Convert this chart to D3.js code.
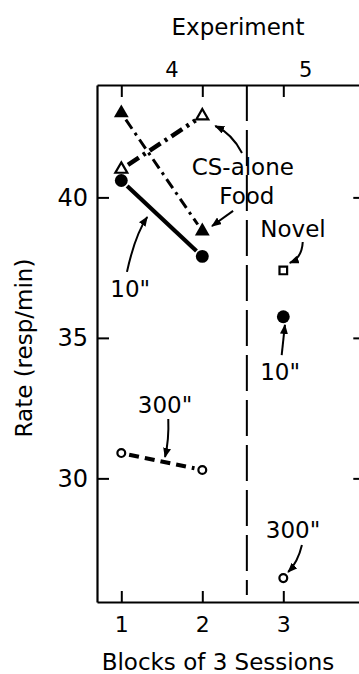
<!DOCTYPE html>
<html>
<head>
<meta charset="utf-8">
<script src="https://cdnjs.cloudflare.com/ajax/libs/d3/7.8.5/d3.min.js"></script>
<style>
  html, body { margin: 0; background: #fff; overflow: hidden; }
  svg { display: block; overflow: hidden; font-family: "DejaVu Sans", sans-serif; }
</style>
</head>
<body>
<svg id="chart"></svg>
<script>
// blocks of 3 sessions: experiment 4 = blocks 1-2, experiment 5 = block 3
const blocks4 = [1, 2];
const blocks5 = [3];

// experiment 4 (resp/min)
const foodRate = [43.0, 38.8];
const csAloneRate = [41.0, 42.9];
const tenSecRate = [40.6, 37.9];
const threeHundredRate = [30.9, 30.3];

// experiment 5 (resp/min)
const novelRate5 = [37.4];
const tenSecRate5 = [35.75];
const threeHundredRate5 = [26.45];

const experiments = ['4', '5'];
const expBounds = [0.7, 2.55, 4];
const xTicks = [1, 2, 3];
const yTicks = [30, 35, 40];

// annotation labels, placed in data units
const notes = [
  { text: 'CS-alone', at: [2.50, 40.80], path: [[2.49, 41.58], [2.37, 42.26], [2.16, 42.54]] },
  { text: 'Food', at: [2.55, 39.77], path: [[2.38, 39.52], [2.12, 38.98]] },
  { text: 'Novel', at: [3.12, 38.59], path: [[3.24, 38.41], [3.23, 37.84], [3.08, 37.67]] },
  { text: '10"', at: [2.96, 33.50], path: [[2.98, 34.39], [3.02, 35.46]] },
  { text: '10"', at: [1.11, 36.46], path: [[1.07, 37.35], [1.17, 38.66], [1.32, 39.30]] },
  { text: '300"', at: [1.54, 32.33], path: [[1.58, 32.11], [1.59, 31.37], [1.54, 30.76]] },
  { text: '300"', at: [3.12, 27.88], path: [[3.23, 27.63], [3.18, 27.02], [3.06, 26.67]] }
];

const w = 359, h = 674;
const svg = d3.select('#chart').attr('width', w).attr('height', h);

const x = d3.scaleLinear().domain([expBounds[0], expBounds[2]]).range([97, 364.3]);
const y = d3.scaleLinear().domain([25.6, 44]).range([602, 85]);

svg.append('defs').append('marker')
    .attr('id', 'head')
    .attr('markerUnits', 'userSpaceOnUse')
    .attr('viewBox', '0 0 10 8')
    .attr('refX', 9).attr('refY', 4)
    .attr('markerWidth', 10).attr('markerHeight', 8)
    .attr('orient', 'auto')
  .append('path')
    .attr('d', 'M0,0L10,4L0,8Z')
    .attr('fill', '#000');

// axes, ticks pointing inward
const styleAxis = g => {
  g.select('.domain').attr('stroke-width', 2.2);
  g.selectAll('.tick line').attr('stroke-width', 2);
  g.selectAll('text').attr('fill', '#000').attr('font-family', '"DejaVu Sans", sans-serif');
};

svg.append('g')
    .attr('transform', `translate(${x.range()[0]},0)`)
    .call(d3.axisLeft(y).tickValues(yTicks).tickSize(-12).tickSizeOuter(0).tickPadding(9))
    .call(styleAxis)
    .selectAll('text').attr('font-size', 24);

svg.append('g')
    .attr('transform', `translate(0,${y.range()[0]})`)
    .call(d3.axisBottom(x).tickValues(xTicks).tickSize(-11).tickSizeOuter(0).tickPadding(14).tickFormat(d3.format('d')))
    .call(styleAxis)
    .selectAll('text').attr('font-size', 22);

svg.append('g')
    .attr('transform', `translate(0,${y.range()[1]})`)
    .call(d3.axisTop(x).tickValues(xTicks).tickSize(-12).tickSizeOuter(0).tickFormat(''))
    .call(styleAxis);

// the right-hand axis lies just past the picture edge: only its inward ticks show
svg.append('g').selectAll('line')
  .data(yTicks)
  .join('line')
    .attr('x1', x.range()[1] - 11).attr('x2', x.range()[1])
    .attr('y1', d => y(d) + 0.5).attr('y2', d => y(d) + 0.5)
    .attr('stroke', '#000')
    .attr('stroke-width', 2);

// experiment numbers centred over their blocks
svg.selectAll('.exp')
  .data(experiments)
  .join('text')
    .attr('x', (d, i) => x((expBounds[i] + expBounds[i + 1]) / 2))
    .attr('y', 77)
    .attr('text-anchor', 'middle')
    .attr('font-size', 21)
    .text(d => d);

// divider between experiments
svg.append('line')
    .attr('x1', x(expBounds[1])).attr('x2', x(expBounds[1]))
    .attr('y1', y.range()[1]).attr('y2', y.range()[0] - 7)
    .attr('stroke', '#000')
    .attr('stroke-width', 2)
    .attr('stroke-dasharray', '36,9');

svg.append('text')
    .attr('x', 238).attr('y', 35)
    .attr('text-anchor', 'middle')
    .attr('font-size', 23)
    .text('Experiment');

svg.append('text')
    .attr('x', 218).attr('y', 670)
    .attr('text-anchor', 'middle')
    .attr('font-size', 23)
    .text('Blocks of 3 Sessions');

svg.append('text')
    .attr('transform', 'translate(32,348) rotate(-90)')
    .attr('text-anchor', 'middle')
    .attr('font-size', 23)
    .text('Rate (resp/min)');

// connecting lines, pulled back from the symbols
const gap = 8;
const line = d3.line();
function trimmed(xs, ys) {
  const p = xs.map((v, i) => [x(v), y(ys[i])]);
  const dx = p[1][0] - p[0][0], dy = p[1][1] - p[0][1];
  const len = Math.hypot(dx, dy);
  const ux = dx / len * gap, uy = dy / len * gap;
  return line([[p[0][0] + ux, p[0][1] + uy], [p[1][0] - ux, p[1][1] - uy]]);
}

const series = [
  { vals: foodRate, width: 3, dash: '11,5,3,5' },
  { vals: csAloneRate, width: 4.5, dash: '13,5,3,5' },
  { vals: tenSecRate, width: 4.2, dash: null },
  { vals: threeHundredRate, width: 4.2, dash: '10,6' }
];

svg.selectAll('.conn')
  .data(series)
  .join('path')
    .attr('d', d => trimmed(blocks4, d.vals))
    .attr('fill', 'none')
    .attr('stroke', '#000')
    .attr('stroke-width', d => d.width)
    .attr('stroke-dasharray', d => d.dash);

// symbols
const sym = (type, size) => d3.symbol().type(type).size(size)();
function points(xs, ys, type, size, filled) {
  svg.append('g').selectAll('path')
    .data(ys)
    .join('path')
      .attr('transform', (d, i) => `translate(${x(xs[i])},${y(d)})`)
      .attr('d', sym(type, size))
      .attr('fill', filled ? '#000' : '#fff')
      .attr('stroke', '#000')
      .attr('stroke-width', filled ? 0 : 2.2);
}

points(blocks4, tenSecRate, d3.symbolCircle, 130, true);
points(blocks4, threeHundredRate, d3.symbolCircle, 48, false);
points(blocks4, foodRate, d3.symbolTriangle, 95, true);
points(blocks4, csAloneRate, d3.symbolTriangle, 62, false);
points(blocks5, novelRate5, d3.symbolSquare, 58, false);
points(blocks5, tenSecRate5, d3.symbolCircle, 130, true);
points(blocks5, threeHundredRate5, d3.symbolCircle, 48, false);

// labels with arrows
const notesG = svg.append('g');
notesG.selectAll('text')
  .data(notes)
  .join('text')
    .attr('x', d => x(d.at[0]))
    .attr('y', d => y(d.at[1]))
    .attr('text-anchor', 'middle')
    .attr('font-size', 23)
    .text(d => d.text);

notesG.selectAll('path')
  .data(notes)
  .join('path')
    .attr('d', d => {
      const p = d.path.map(q => [x(q[0]), y(q[1])]);
      const pa = d3.path();
      pa.moveTo(p[0][0], p[0][1]);
      if (p.length === 3) pa.quadraticCurveTo(p[1][0], p[1][1], p[2][0], p[2][1]);
      else pa.lineTo(p[1][0], p[1][1]);
      return pa.toString();
    })
    .attr('fill', 'none')
    .attr('stroke', '#000')
    .attr('stroke-width', 2)
    .attr('marker-end', 'url(#head)');
</script>
</body>
</html>
